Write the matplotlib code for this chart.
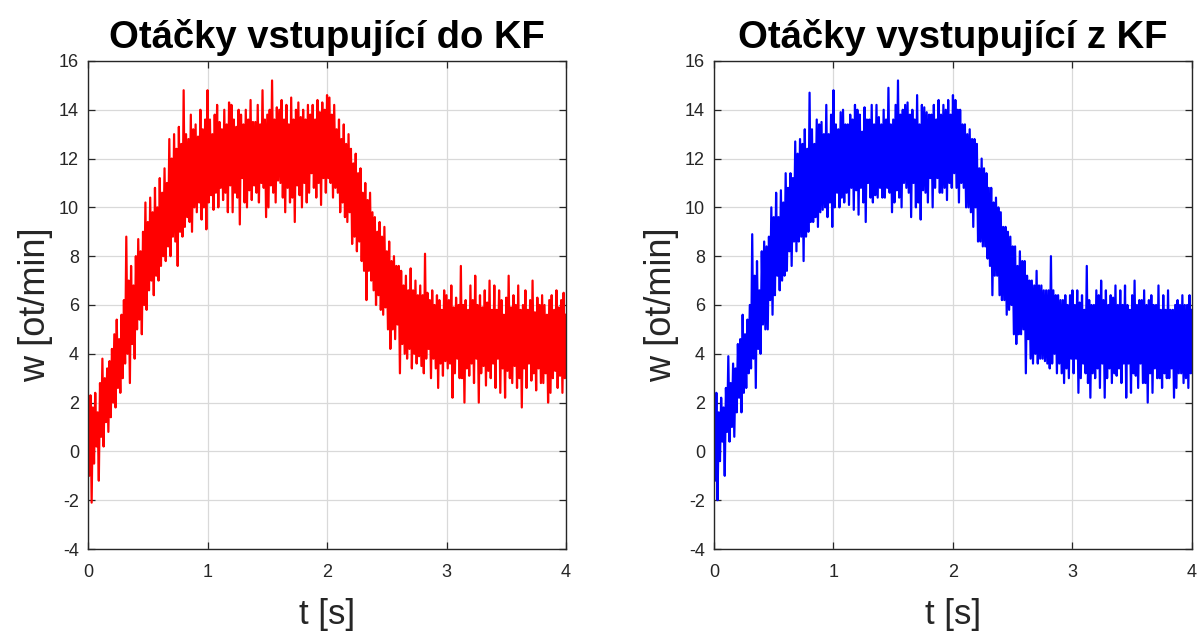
import numpy as np
import matplotlib.pyplot as plt

plt.rcParams['font.family'] = ['Liberation Sans', 'DejaVu Sans']
plt.rcParams['axes.unicode_minus'] = False

# otacky vstupujici do KF (mereni), vzorky po 0.01 s, t = 0 .. 4 s
w_in = [
    1.0, -1.0, 2.3, -2.1, 1.8, -0.5, 2.4, 0.2, 1.6, -1.2,
    2.8, 0.6, 3.8, 0.2, 3.0, 1.2, 3.4, 0.8, 3.7, 1.4,
    4.2, 2.0, 4.8, 1.8, 5.4, 2.6, 4.6, 2.4, 5.6, 3.0,
    6.2, 3.6, 8.8, 4.0, 7.0, 2.8, 7.6, 4.4, 6.8, 3.8,
    8.0, 5.0, 8.7, 5.4, 8.2, 4.8, 9.0, 6.0, 10.2, 5.8,
    9.4, 6.6, 10.4, 7.0, 9.8, 6.4, 10.8, 7.2, 10.0, 7.0,
    11.2, 7.6, 10.6, 8.0, 11.6, 7.8, 11.0, 8.4, 12.8, 8.0,
    12.0, 8.8, 13.0, 8.6, 12.4, 7.6, 13.3, 9.0, 12.6, 8.8,
    14.8, 9.2, 13.0, 9.6, 12.8, 9.4, 13.8, 9.0, 13.2, 10.0,
    13.4, 9.8, 12.9, 10.2, 14.0, 9.5, 13.2, 10.0, 13.6, 9.1,
    14.8, 10.2, 13.6, 10.5, 13.0, 9.9, 13.8, 10.6, 14.2, 10.0,
    13.5, 10.8, 13.2, 10.3, 14.0, 10.6, 13.4, 9.8, 14.3, 10.9,
    14.2, 9.8, 13.6, 10.6, 13.3, 10.4, 14.0, 9.3, 13.8, 11.2,
    13.4, 10.2, 14.0, 10.0, 13.6, 10.7, 14.4, 10.3, 13.5, 10.9,
    13.5, 10.6, 14.2, 10.2, 13.4, 11.0, 14.8, 10.8, 13.6, 9.6,
    13.8, 10.0, 14.0, 10.9, 15.2, 10.6, 13.6, 10.2, 14.1, 11.1,
    14.0, 11.0, 14.4, 10.4, 13.6, 9.8, 14.2, 10.8, 13.4, 10.2,
    14.5, 10.4, 13.6, 9.4, 14.0, 10.9, 14.3, 10.5, 13.7, 10.0,
    14.0, 11.0, 13.6, 10.2, 14.2, 10.6, 13.8, 11.4, 14.2, 10.8,
    13.6, 10.4, 14.4, 11.0, 13.9, 10.1, 14.3, 11.2, 14.0, 10.6,
    14.6, 11.2, 14.5, 11.0, 13.8, 10.4, 14.2, 10.8, 13.2, 10.6,
    13.6, 9.8, 12.8, 10.2, 13.4, 9.6, 12.6, 9.4, 13.0, 9.8,
    12.4, 8.5, 11.8, 8.8, 12.2, 8.2, 11.4, 8.6, 11.6, 7.8,
    10.6, 7.4, 11.0, 6.2, 10.3, 7.4, 10.6, 7.0, 9.8, 6.6,
    9.6, 6.0, 9.0, 6.4, 9.4, 5.8, 8.8, 5.6, 9.2, 5.9,
    8.2, 5.0, 8.6, 4.2, 7.8, 5.0, 8.0, 4.6, 7.6, 5.2,
    7.6, 3.2, 7.4, 4.4, 6.8, 4.0, 7.2, 3.8, 6.6, 4.2,
    7.5, 3.4, 6.6, 4.0, 7.0, 3.6, 6.4, 3.9, 6.8, 3.5,
    6.4, 3.2, 8.1, 3.8, 6.5, 4.2, 6.2, 3.0, 6.6, 3.8,
    6.0, 3.4, 6.4, 2.6, 6.2, 3.6, 5.8, 3.1, 6.6, 3.7,
    6.4, 3.4, 6.2, 3.6, 6.8, 2.2, 5.9, 3.2, 6.3, 3.8,
    6.0, 3.0, 7.6, 3.0, 6.0, 2.0, 6.2, 3.4, 5.8, 3.1,
    6.8, 3.6, 6.2, 2.8, 7.2, 3.8, 6.0, 2.0, 6.4, 3.2,
    5.9, 3.5, 6.6, 2.7, 6.1, 3.3, 7.0, 3.0, 5.8, 3.6,
    6.8, 2.6, 5.8, 3.8, 6.6, 2.4, 6.2, 3.4, 5.6, 2.2,
    6.3, 3.3, 7.2, 3.0, 5.9, 2.8, 6.4, 3.5, 6.0, 2.6,
    6.8, 3.0, 5.8, 1.8, 6.0, 3.4, 6.6, 2.6, 5.8, 3.6,
    6.2, 2.9, 7.0, 3.2, 5.7, 2.5, 6.3, 3.4, 6.0, 2.8,
    6.4, 2.8, 6.0, 3.2, 5.6, 2.0, 6.2, 2.4, 6.4, 3.0,
    5.8, 3.3, 6.6, 2.6, 5.9, 3.1, 6.2, 2.4, 6.5, 3.0,
    5.6,
]

# otacky vystupujici z KF, vzorky po 0.01 s, t = 0 .. 4 s
w_out = [
    1.2, -1.2, 2.4, -2.0, 1.6, -0.4, 2.2, 0.4, 1.8, -1.0,
    2.6, 0.8, 3.9, 0.4, 2.8, 1.0, 3.6, 0.6, 3.4, 1.6,
    4.4, 2.2, 4.6, 1.6, 5.6, 2.4, 4.8, 2.6, 5.4, 3.2,
    6.0, 3.4, 8.9, 3.8, 7.2, 2.6, 7.8, 4.2, 6.6, 4.0,
    8.2, 5.2, 8.6, 5.0, 8.4, 5.0, 8.8, 6.2, 10.0, 5.6,
    9.6, 6.4, 10.6, 7.2, 9.6, 6.6, 10.7, 7.0, 10.2, 7.2,
    11.4, 7.4, 10.8, 8.2, 11.4, 7.6, 11.2, 8.6, 12.7, 8.2,
    12.2, 8.6, 12.8, 8.8, 12.6, 7.8, 13.2, 8.8, 12.4, 9.0,
    14.7, 9.4, 13.2, 9.4, 12.6, 9.6, 13.6, 9.2, 13.4, 9.8,
    13.5, 9.9, 13.0, 10.0, 14.2, 9.6, 13.0, 10.2, 13.8, 9.2,
    14.8, 10.0, 13.4, 10.6, 13.2, 10.0, 13.9, 10.4, 14.0, 10.2,
    13.4, 10.6, 13.4, 10.1, 13.8, 10.8, 13.6, 9.9, 14.2, 10.7,
    14.0, 9.7, 13.8, 10.8, 13.1, 10.2, 14.1, 9.4, 13.6, 11.0,
    13.6, 10.4, 14.2, 10.2, 13.4, 10.5, 14.2, 10.4, 13.7, 10.8,
    13.4, 10.4, 14.0, 10.4, 13.6, 10.8, 14.9, 10.6, 13.4, 9.8,
    13.6, 10.2, 14.2, 10.7, 15.2, 10.4, 13.8, 10.0, 14.0, 11.0,
    14.2, 10.8, 14.3, 10.6, 13.8, 9.6, 14.0, 11.0, 13.6, 10.0,
    14.6, 10.2, 13.4, 9.5, 14.2, 10.7, 14.1, 10.6, 13.9, 10.2,
    13.8, 11.2, 13.8, 10.0, 14.2, 10.8, 13.6, 11.2, 14.4, 10.6,
    13.8, 10.6, 14.2, 10.8, 14.0, 10.3, 14.4, 11.0, 13.8, 10.8,
    14.6, 11.4, 14.4, 10.8, 14.0, 10.2, 14.0, 11.0, 13.4, 10.8,
    13.4, 10.0, 13.0, 10.0, 13.2, 9.8, 12.8, 9.2, 12.8, 10.0,
    12.6, 8.6, 11.6, 8.6, 12.0, 8.4, 11.6, 8.4, 11.4, 7.9,
    10.8, 7.6, 10.8, 6.4, 10.2, 7.2, 10.4, 7.2, 10.0, 6.4,
    9.8, 6.2, 9.2, 6.2, 9.2, 5.6, 9.0, 5.8, 8.8, 6.0,
    8.4, 4.8, 8.4, 4.4, 7.6, 4.8, 8.2, 4.8, 7.8, 5.0,
    7.8, 3.2, 7.2, 4.6, 7.0, 3.8, 7.0, 3.6, 6.8, 4.0,
    7.4, 3.6, 6.8, 3.8, 6.8, 3.8, 6.6, 3.7, 6.6, 3.6,
    6.6, 3.4, 8.0, 3.6, 6.6, 4.0, 6.4, 3.2, 6.4, 3.6,
    6.2, 3.2, 6.2, 2.8, 6.4, 3.4, 6.0, 3.0, 6.4, 3.8,
    6.6, 3.2, 6.0, 3.8, 6.6, 2.4, 6.1, 3.0, 6.4, 3.6,
    5.8, 3.2, 7.6, 2.8, 6.2, 2.2, 6.0, 3.2, 6.0, 3.0,
    6.6, 3.4, 6.4, 2.6, 7.0, 3.6, 6.2, 2.2, 6.6, 3.0,
    6.0, 3.4, 6.4, 2.8, 6.3, 3.2, 6.8, 3.1, 6.0, 3.4,
    6.6, 2.8, 6.0, 3.6, 6.8, 2.2, 6.0, 3.6, 5.8, 2.4,
    6.4, 3.2, 7.0, 3.1, 6.0, 2.6, 6.2, 3.6, 6.2, 2.8,
    6.6, 2.8, 6.0, 2.0, 6.2, 3.2, 6.4, 2.4, 6.0, 3.4,
    6.0, 3.0, 6.8, 3.0, 5.8, 2.6, 6.4, 3.2, 5.8, 3.0,
    6.6, 3.0, 5.8, 3.4, 5.8, 2.2, 6.0, 2.6, 6.2, 3.2,
    6.0, 3.2, 6.4, 2.8, 6.0, 3.0, 6.0, 2.6, 6.4, 3.2,
    5.8,
]

t_in = np.linspace(0, 4, len(w_in))
t_out = np.linspace(0, 4, len(w_out))

titles = ['Otáčky vstupující do KF', 'Otáčky vystupující z KF']
colors = ['#ff0000', '#0000ff']
x_ticks = [0, 1, 2, 3, 4]
y_ticks = list(range(-4, 17, 2))

fig = plt.figure(figsize=(12.03, 6.33), dpi=100)
ax_l = fig.add_axes([0.0732, 0.1327, 0.3973, 0.771])
ax_r = fig.add_axes([0.5935, 0.1327, 0.3973, 0.771])

for ax, t, w, ttl, c in zip([ax_l, ax_r], [t_in, t_out], [w_in, w_out], titles, colors):
    ax.plot(t, w, color=c, lw=1.6)
    ax.set_xlim(0, 4)
    ax.set_ylim(-4, 16)
    ax.set_xticks(x_ticks)
    ax.set_yticks(y_ticks)
    ax.grid(True, color='#d9d9d9', lw=0.9)
    ax.set_axisbelow(True)
    ax.tick_params(direction='in', top=True, right=True, length=5,
                   labelsize=13, colors='#262626', width=0.9)
    ax.tick_params(axis='x', pad=11)
    ax.tick_params(axis='y', pad=6.5)
    for s in ax.spines.values():
        s.set_color('#262626')
        s.set_linewidth(1.0)
    ax.set_title(ttl, fontsize=27.5, fontweight='bold', pad=9)
    ax.set_xlabel('t [s]', fontsize=25, color='#262626', labelpad=12)
    ax.set_ylabel('w [ot/min]', fontsize=26, color='#262626', labelpad=4)

fig.savefig('out.png', dpi=100)
